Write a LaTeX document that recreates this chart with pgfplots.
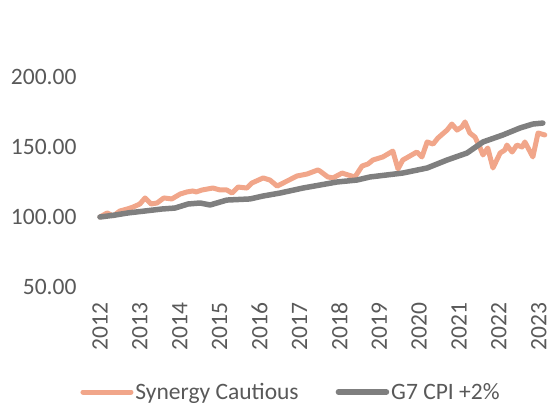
\documentclass[border=0pt]{standalone}
\usepackage{pgfplots}
\pgfplotsset{compat=1.18}
\usepackage{fontspec}
\setmainfont{Carlito}
\definecolor{synorange}{RGB}{241,166,138}
\definecolor{cpigray}{RGB}{127,127,127}
\definecolor{txtgray}{RGB}{89,89,89}
\begin{document}
\begin{tikzpicture}
\begin{axis}[
  scale only axis,
  width=460pt, height=210pt,
  xmin=2011.75, xmax=2023.28,
  ymin=50, ymax=200,
  axis line style={draw=none},
  tick style={draw=none},
  ytick={50,100,150,200},
  xtick={2012,2013,2014,2015,2016,2017,2018,2019,2020,2021,2022,2023},
  /pgf/number format/assume math mode=true,
  yticklabel shift=10pt,
  xticklabel shift=12pt,
  yticklabel style={/pgf/number format/.cd,fixed,fixed zerofill,precision=2,1000 sep={}},
  xticklabel style={rotate=90, anchor=east, /pgf/number format/1000 sep={}},
  ticklabel style={font=\fontsize{23.5}{28}\selectfont, text=txtgray},
  legend columns=2,
  legend style={draw=none, at={(0.437,-0.5)}, anchor=center,
    font=\fontsize{23.5}{28}\selectfont, text=txtgray,
    /tikz/every even column/.append style={column sep=35pt}},
  legend image code/.code={\draw[#1] (0pt,0pt) -- (48pt,0pt);},
]
\addplot[color=synorange, line width=5pt, line join=round, line cap=round] coordinates {
(2012.00,100.0) (2012.18,102.9) (2012.33,100.7) (2012.50,104.3) (2012.68,105.7)
(2012.83,107.1) (2013.00,109.3) (2013.13,113.6) (2013.28,109.3) (2013.43,110.0)
(2013.60,113.6) (2013.80,112.9) (2014.01,116.4) (2014.18,117.9) (2014.33,118.6)
(2014.41,117.9) (2014.56,119.3) (2014.83,120.7) (2015.01,119.3) (2015.18,119.3)
(2015.31,117.1) (2015.46,121.4) (2015.68,120.7) (2015.81,124.3) (2016.09,127.9)
(2016.26,126.4) (2016.44,122.1) (2016.69,125.7) (2016.94,129.3) (2017.19,130.7)
(2017.46,133.6) (2017.51,132.9) (2017.71,128.6) (2017.84,127.9) (2018.07,131.4)
(2018.22,130.0) (2018.39,128.6) (2018.57,136.4) (2018.72,137.9) (2018.84,140.7)
(2019.09,142.9) (2019.34,147.1) (2019.47,134.3) (2019.59,140.7) (2019.77,143.6)
(2019.94,146.4) (2020.07,142.9) (2020.20,153.6) (2020.35,152.1) (2020.47,156.4)
(2020.70,162.1) (2020.82,166.4) (2020.95,162.1) (2021.07,164.3) (2021.15,167.9)
(2021.27,160.0) (2021.40,157.1) (2021.52,150.0) (2021.60,144.3) (2021.72,149.3)
(2021.85,135.0) (2022.03,145.7) (2022.15,147.9) (2022.20,151.4) (2022.33,146.4)
(2022.45,151.4) (2022.58,150.0) (2022.65,153.6) (2022.85,142.9) (2022.98,160.0)
(2023.15,158.6)
};
\addlegendentry{Synergy Cautious}
\addplot[color=cpigray, line width=5.5pt, line join=round, line cap=round] coordinates {
(2012.00,100.0) (2012.38,101.4) (2012.70,102.9) (2013.13,104.3) (2013.55,105.7)
(2013.88,106.4) (2014.21,109.3) (2014.51,110.0) (2014.76,108.6) (2015.18,112.1)
(2015.76,112.9) (2016.09,115.0) (2016.51,117.1) (2017.09,120.7) (2017.94,125.0)
(2018.44,126.4) (2018.77,128.6) (2019.59,131.4) (2020.20,135.0) (2020.70,140.7)
(2021.20,145.7) (2021.60,153.6) (2022.10,158.6) (2022.53,163.6) (2022.85,166.4)
(2023.10,167.1)
};
\addlegendentry{G7 CPI +2\%}
\end{axis}
\pgfresetboundingbox
\path[use as bounding box] (-90pt,-117pt) rectangle (461pt,287pt);
\end{tikzpicture}
\end{document}
